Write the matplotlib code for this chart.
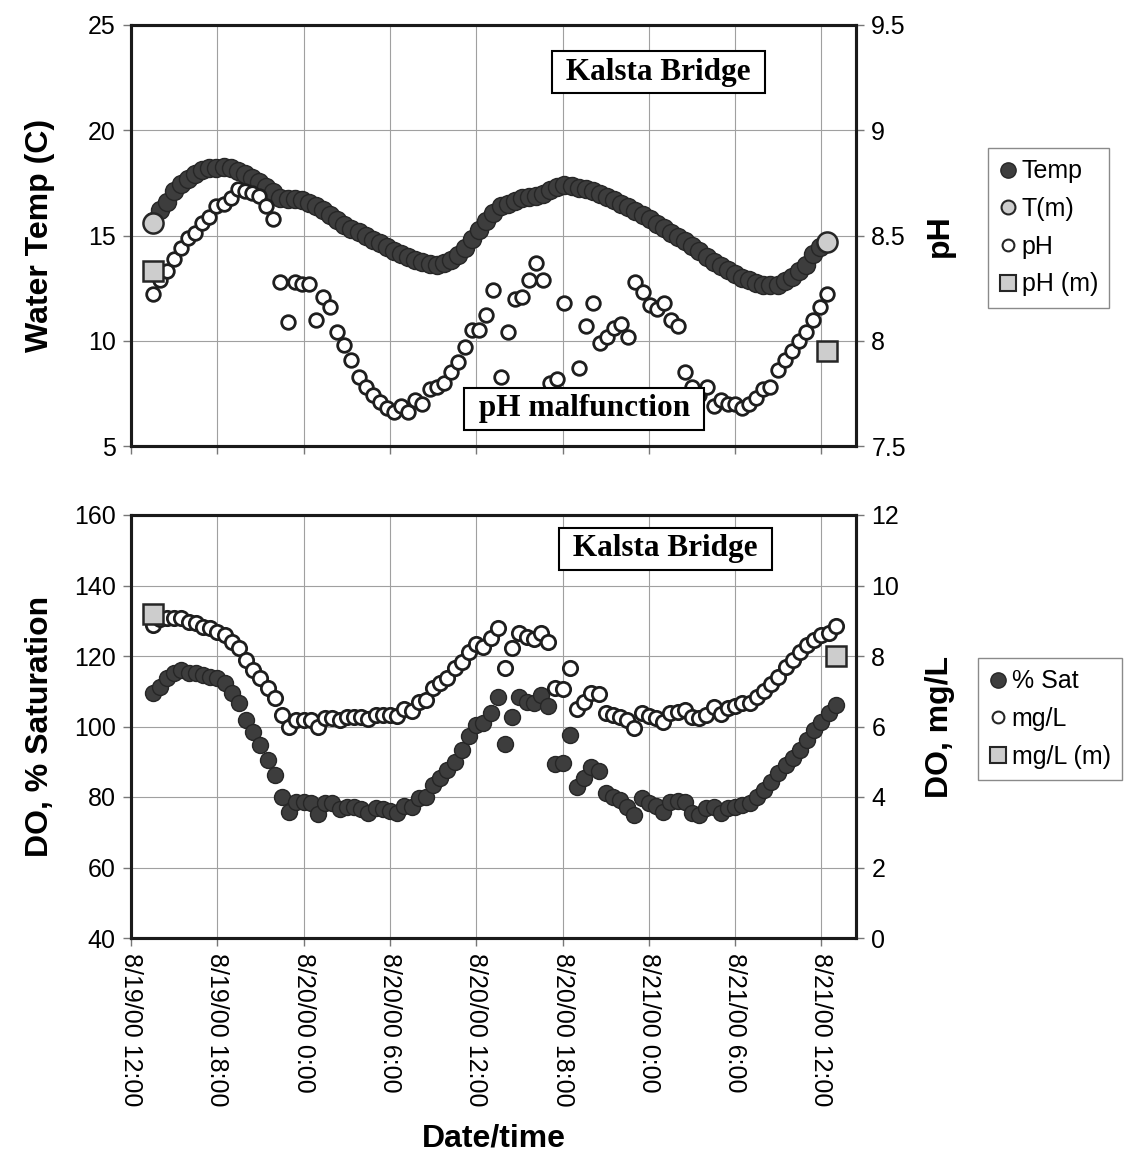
import matplotlib
matplotlib.use("Agg")
import matplotlib.pyplot as plt
from matplotlib.lines import Line2D
import numpy as np
import pandas as pd

plt.rcParams["font.family"] = ["Liberation Sans", "DejaVu Sans"]

# Sonde record (water temperature + pH), 8/19 13:30 through 8/21 ~12:24
sonde_start = "2000-08-19 13:30"
sonde_end = "2000-08-21 12:24"
temp_c = [
    15.7, 16.2, 16.6, 17.1, 17.45, 17.7, 17.9, 18.1, 18.2, 18.23,
    18.25, 18.2, 18.05, 17.93, 17.75, 17.55, 17.3, 17.05, 16.8, 16.75,
    16.72, 16.67, 16.53, 16.38, 16.2, 15.98, 15.74, 15.52, 15.32, 15.15,
    14.98, 14.8, 14.63, 14.45, 14.28, 14.12, 13.97, 13.83, 13.72, 13.64,
    13.62, 13.7, 13.85, 14.08, 14.42, 14.83, 15.25, 15.68, 16.08, 16.38,
    16.52, 16.64, 16.76, 16.84, 16.89, 16.98, 17.16, 17.29, 17.4, 17.36,
    17.28, 17.2, 17.1, 16.97, 16.83, 16.68, 16.52, 16.36, 16.18, 15.98,
    15.78, 15.57, 15.35, 15.14, 14.94, 14.72, 14.48, 14.24, 14.0, 13.75,
    13.55, 13.35, 13.18, 13.0, 12.87, 12.76, 12.66, 12.63, 12.65, 12.82,
    13.05, 13.3, 13.62, 14.1, 14.45, 14.7,
]
ph = [
    8.22, 8.29, 8.33, 8.39, 8.44, 8.49, 8.51, 8.56, 8.59, 8.64,
    8.65, 8.68, 8.72, 8.71, 8.70, 8.69, 8.64, 8.58, 8.28, 8.09,
    8.28, 8.27, 8.27, 8.10, 8.21, 8.16, 8.04, 7.98, 7.91, 7.83,
    7.78, 7.74, 7.71, 7.68, 7.66, 7.69, 7.66, 7.72, 7.70, 7.77,
    7.78, 7.80, 7.85, 7.90, 7.97, 8.05, 8.05, 8.12, 8.24, 7.83,
    8.04, 8.20, 8.21, 8.29, 8.37, 8.29, 7.80, 7.82, 8.18, 7.72,
    7.87, 8.07, 8.18, 7.99, 8.02, 8.06, 8.08, 8.02, 8.28, 8.23,
    8.17, 8.15, 8.18, 8.10, 8.07, 7.85, 7.78, 7.74, 7.78, 7.69,
    7.72, 7.70, 7.70, 7.68, 7.70, 7.73, 7.77, 7.78, 7.86, 7.91,
    7.95, 8.00, 8.04, 8.10, 8.16, 8.22,
]

# Dissolved oxygen, half-hourly from 8/19 13:30
do_start = "2000-08-19 13:30"
do_sat = [
    109.5, 111.2, 113.8, 115.2, 116.0, 115.2, 115.2, 114.6, 114.0, 113.8,
    112.3, 109.5, 106.7, 101.8, 98.4, 94.8, 90.5, 86.2, 80.0, 75.7,
    78.6, 78.6, 78.3, 75.2, 78.3, 78.3, 76.6, 77.2, 77.2, 76.6,
    75.5, 76.9, 76.6, 76.0, 75.5, 77.4, 77.2, 79.7, 80.0, 83.4,
    85.4, 87.7, 89.9, 93.3, 97.2, 100.4, 101.0, 103.9, 108.4, 95.0,
    102.7, 108.4, 107.0, 106.7, 108.9, 105.8, 89.4, 89.6, 97.6, 82.8,
    85.4, 88.5, 87.4, 81.1, 80.0, 79.1, 77.2, 74.9, 79.7, 78.3,
    77.4, 75.7, 78.6, 78.9, 78.6, 75.5, 74.9, 76.9, 77.2, 75.5,
    76.9, 77.2, 77.7, 78.3, 80.0, 82.0, 84.3, 86.8, 89.1, 91.1,
    93.3, 96.2, 99.0, 101.3, 103.8, 106.1,
]
do_mgl = [
    8.88, 9.05, 9.08, 9.08, 9.08, 8.96, 8.94, 8.82, 8.79, 8.68,
    8.60, 8.40, 8.23, 7.89, 7.60, 7.38, 7.09, 6.81, 6.33, 5.99,
    6.18, 6.18, 6.18, 5.99, 6.24, 6.24, 6.18, 6.27, 6.27, 6.27,
    6.21, 6.33, 6.33, 6.33, 6.30, 6.50, 6.44, 6.70, 6.75, 7.09,
    7.23, 7.38, 7.66, 7.83, 8.11, 8.34, 8.26, 8.51, 8.79, 7.66,
    8.23, 8.65, 8.54, 8.48, 8.65, 8.40, 7.09, 7.06, 7.66, 6.50,
    6.70, 6.95, 6.92, 6.38, 6.33, 6.27, 6.18, 5.96, 6.38, 6.30,
    6.24, 6.13, 6.38, 6.41, 6.47, 6.27, 6.24, 6.33, 6.55, 6.35,
    6.52, 6.58, 6.67, 6.67, 6.84, 7.01, 7.21, 7.40, 7.69, 7.89,
    8.11, 8.31, 8.45, 8.60, 8.65, 8.85,
]

# Hand-held meter checks at deployment / retrieval
meter_top_times = ["2000-08-19 13:30", "2000-08-21 12:24"]
temp_meter = [15.6, 14.7]
ph_meter = [8.33, 7.95]
meter_do_times = ["2000-08-19 13:30", "2000-08-21 13:00"]
do_meter = [9.2, 8.0]

tick_times = ["2000-08-19 12:00", "2000-08-19 18:00", "2000-08-20 00:00",
              "2000-08-20 06:00", "2000-08-20 12:00", "2000-08-20 18:00",
              "2000-08-21 00:00", "2000-08-21 06:00", "2000-08-21 12:00"]
tick_labels = ["8/19/00 12:00", "8/19/00 18:00", "8/20/00 0:00",
               "8/20/00 6:00", "8/20/00 12:00", "8/20/00 18:00",
               "8/21/00 0:00", "8/21/00 6:00", "8/21/00 12:00"]
x_min, x_max = "2000-08-19 12:00", "2000-08-21 14:24"

sonde_t = pd.date_range(sonde_start, sonde_end, periods=len(ph)).to_numpy()
do_t = pd.date_range(do_start, periods=len(do_sat), freq="30min").to_numpy()
to_dt = lambda vals: pd.to_datetime(vals).to_numpy()

DARK = "#3d3d3d"
EDGE = "#262626"
METER = "#cdcdcd"
GRID = "#a0a0a0"
TICK_FS = 18
LABEL_FS = 23

fig = plt.figure(figsize=(11.31, 11.56), dpi=100)
W, H = 1131, 1156
ax_t = fig.add_axes([131 / W, 1 - 446 / H, 725 / W, 421 / H])
ax_ph = ax_t.twinx()
ax_d = fig.add_axes([131 / W, 1 - 938 / H, 725 / W, 423 / H])
ax_mg = ax_d.twinx()

# --- top: temperature and pH ---
ax_t.plot(sonde_t, temp_c, "o", ms=13, mfc=DARK, mec=EDGE, mew=1)
ax_t.plot(to_dt(meter_top_times), temp_meter, "o", ms=14.5, mfc=METER,
          mec=EDGE, mew=1.8, zorder=4)
ax_ph.plot(sonde_t, ph, "o", ms=9.8, mfc="white", mec="#1e1e1e", mew=2)
ax_ph.plot(to_dt(meter_top_times), ph_meter, "s", ms=14, mfc=METER,
           mec=EDGE, mew=1.8, zorder=4)

ax_t.set_ylim(5, 25)
ax_t.set_yticks([5, 10, 15, 20, 25])
ax_ph.set_ylim(7.5, 9.5)
ax_ph.set_yticks([7.5, 8, 8.5, 9, 9.5])
ax_ph.set_yticklabels(["7.5", "8", "8.5", "9", "9.5"])
ax_t.set_ylabel("Water Temp (C)", fontsize=LABEL_FS, fontweight="bold")
ax_ph.set_ylabel("pH", fontsize=LABEL_FS, fontweight="bold", rotation=90)

# --- bottom: dissolved oxygen ---
ax_d.plot(do_t, do_sat, "o", ms=11.5, mfc=DARK, mec=EDGE, mew=1)
ax_mg.plot(do_t, do_mgl, "o", ms=10.3, mfc="white", mec="#1e1e1e", mew=2)
ax_mg.plot(to_dt(meter_do_times), do_meter, "s", ms=15, mfc=METER,
           mec=EDGE, mew=1.8, zorder=4)

ax_d.set_ylim(40, 160)
ax_d.set_yticks(range(40, 161, 20))
ax_mg.set_ylim(0, 12)
ax_mg.set_yticks(range(0, 13, 2))
ax_d.set_ylabel("DO, % Saturation", fontsize=LABEL_FS, fontweight="bold")
ax_mg.set_ylabel("DO, mg/L", fontsize=LABEL_FS, fontweight="bold", rotation=90)
ax_d.set_xlabel("Date/time", fontsize=LABEL_FS, fontweight="bold", labelpad=12)

for ax in (ax_t, ax_d):
    ax.set_xlim(to_dt([x_min])[0], to_dt([x_max])[0])
    ax.set_xticks(to_dt(tick_times))
    ax.grid(True, color=GRID, lw=0.8)
    ax.set_axisbelow(True)
ax_t.set_xticklabels([])
ax_d.set_xticklabels(tick_labels, rotation=-90, ha="center", va="top")

for ax in (ax_t, ax_ph, ax_d, ax_mg):
    for sp in ax.spines.values():
        sp.set_linewidth(2.2)
        sp.set_color("#1a1a1a")
    ax.tick_params(direction="out", length=6, width=1, color="#777777",
                   labelsize=TICK_FS, pad=5)

ax_t.yaxis.set_label_coords(-0.105, 0.5)
ax_d.yaxis.set_label_coords(-0.105, 0.5)
ax_ph.yaxis.set_label_coords(1.095, 0.5)
ax_mg.yaxis.set_label_coords(1.095, 0.5)

box = dict(boxstyle="square,pad=0.2", fc="white", ec="black", lw=1.5)
note = dict(ha="center", va="center", fontsize=22.5, fontweight="bold",
            family="Liberation Serif", bbox=box, zorder=10)
ax_ph.text(0.727, 0.888, " Kalsta Bridge ", transform=ax_ph.transAxes, **note)
ax_ph.text(0.625, 0.088, " pH malfunction ", transform=ax_ph.transAxes, **note)
ax_mg.text(0.737, 0.920, " Kalsta Bridge ", transform=ax_mg.transAxes, **note)

# legends
def mk(marker, ms, fc, mew=1.5):
    return Line2D([], [], ls="none", marker=marker, ms=ms, mfc=fc,
                  mec=EDGE, mew=mew)

leg_kw = dict(loc="upper left", bbox_transform=fig.transFigure, fontsize=18,
              frameon=True, fancybox=False, framealpha=1, edgecolor="#8a8a8a",
              borderpad=0.45, labelspacing=0.55, handlelength=0.7,
              handletextpad=0.2, borderaxespad=0)
leg1 = fig.legend([mk("o", 11, DARK, 1), mk("o", 10, METER), mk("o", 8.5, "white"),
                   mk("s", 11, METER)],
                  ["Temp", "T(m)", "pH", "pH (m)"],
                  bbox_to_anchor=(988 / W, 1 - 148 / H), **leg_kw)
leg1.get_frame().set_linewidth(1)
leg2 = fig.legend([mk("o", 11, DARK, 1), mk("o", 8.5, "white"), mk("s", 11, METER)],
                  ["% Sat", "mg/L", "mg/L (m)"],
                  bbox_to_anchor=(978 / W, 1 - 658 / H), **leg_kw)
leg2.get_frame().set_linewidth(1)

fig.savefig("out.png", dpi=100)
